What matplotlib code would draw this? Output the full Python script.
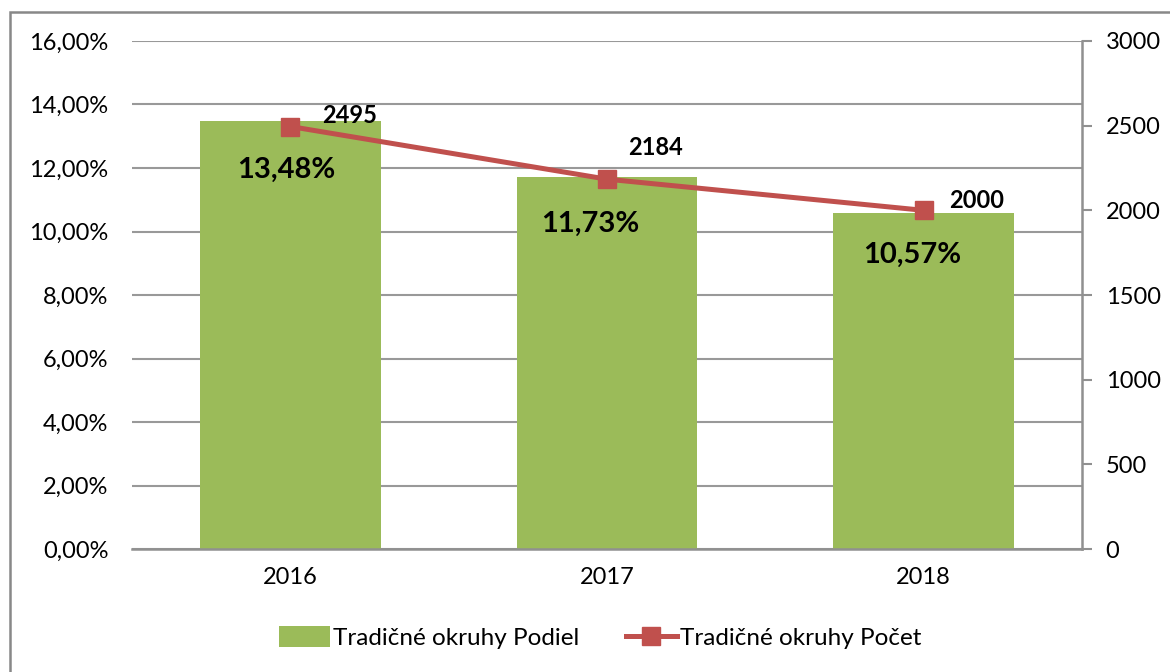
import numpy as np
import matplotlib.pyplot as plt
from matplotlib.patches import Rectangle
from matplotlib.ticker import FuncFormatter

plt.rcParams['font.family'] = ['Lato', 'DejaVu Sans']

years = ['2016', '2017', '2018']
podiel = [13.48, 11.73, 10.57]
pocet = [2495, 2184, 2000]
podiel_labels = ['13,48%', '11,73%', '10,57%']
# label offsets (points) as Excel placed them
pct_off = [(-3, -35), (-12, -34), (-8, -30)]
cnt_off = [(43, 8), (35, 23), (38, 7)]

fig = plt.figure(figsize=(11.7, 6.72), dpi=100)
ax = fig.add_axes([0.1128, 0.183, 0.812, 0.756])
ax2 = ax.twinx()

x = np.arange(len(years))
bars = ax.bar(x, podiel, width=0.57, color='#9BBB59', zorder=2, label='Tradičné okruhy Podiel')
ax.set_ylim(0, 16)
ax.set_xlim(-0.5, 2.5)
ax.set_yticks(np.arange(0, 17, 2))
ax.yaxis.set_major_formatter(FuncFormatter(lambda v, p: ('%.2f%%' % v).replace('.', ',')))
ax.grid(axis='y', color='#999999', linewidth=1.5, zorder=0)
ax.set_axisbelow(True)
ax.set_xticks(x)
ax.set_xticklabels(years)
ax.tick_params(axis='y', length=0, pad=17, labelsize=17)
ax.tick_params(axis='x', length=0, pad=13, labelsize=17)
for s in ['top', 'left', 'right']:
    ax.spines[s].set_visible(False)
ax.spines['bottom'].set_color('#909090')
ax.spines['bottom'].set_linewidth(1.8)

for xi, v, lab, off in zip(x, podiel, podiel_labels, pct_off):
    ax.annotate(lab, (xi, v), xytext=off, textcoords='offset points',
                ha='center', va='center', fontsize=21, fontweight='bold', zorder=5)

line, = ax2.plot(x, pocet, color='#C0504D', linewidth=3.6, marker='s', markersize=13,
                 zorder=4, label='Tradičné okruhy Počet')
ax2.set_ylim(0, 3000)
ax2.set_yticks(np.arange(0, 3001, 500))
ax2.tick_params(axis='y', direction='out', length=7, width=1.5, color='#909090', pad=10, labelsize=17)
for s in ['top', 'left', 'bottom']:
    ax2.spines[s].set_visible(False)
ax2.spines['right'].set_color('#909090')
ax2.spines['right'].set_linewidth(1.8)

for xi, v, off in zip(x, pocet, cnt_off):
    ax2.annotate(str(v), (xi, v), xytext=off, textcoords='offset points',
                 ha='center', va='center', fontsize=17, fontweight='bold', zorder=5)

fig.legend(handles=[bars, line], loc='center', bbox_to_anchor=(0.513, 0.051), ncol=2,
           frameon=False, fontsize=17.5, handlelength=2.1, handleheight=0.9,
           handletextpad=0.15, columnspacing=1.9)

fig.patches.append(Rectangle((0.0085, -0.02), 1.1, 1.002, transform=fig.transFigure,
                             fill=False, edgecolor='#888888', linewidth=1.8))

fig.savefig('out.png', dpi=100)
